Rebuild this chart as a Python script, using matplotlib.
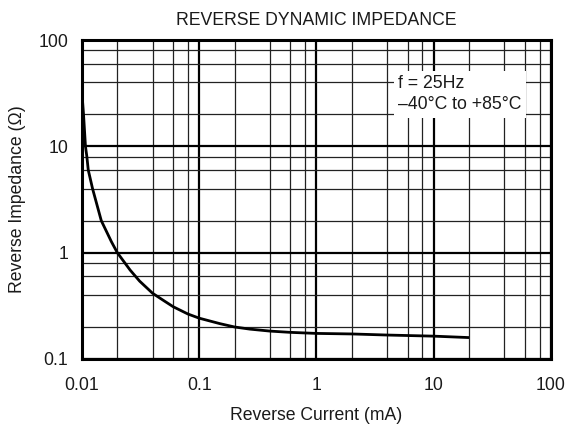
import matplotlib
matplotlib.use("Agg")
import matplotlib.pyplot as plt
from matplotlib.ticker import LogLocator, NullFormatter, FixedLocator, FixedFormatter

plt.rcParams['font.family'] = ['Liberation Sans', 'DejaVu Sans']

# Data
current_mA = [0.01, 0.0103, 0.0107, 0.011, 0.0113, 0.0123, 0.0146, 0.0178, 0.02,
              0.0257, 0.031, 0.04, 0.05, 0.06, 0.08, 0.1, 0.15, 0.2, 0.27, 0.4, 0.6,
              1, 2, 4, 10, 20]
impedance = [31, 20, 10, 8, 6, 4, 2, 1.27, 1.0,
             0.687, 0.54, 0.415, 0.353, 0.31, 0.265, 0.242, 0.215, 0.2, 0.191, 0.183, 0.178,
             0.174, 0.172, 0.168, 0.164, 0.159]

x_ticks = [0.01, 0.1, 1, 10, 100]
x_tick_labels = ["0.01", "0.1", "1", "10", "100"]
y_ticks = [0.1, 1, 10, 100]
y_tick_labels = ["0.1", "1", "10", "100"]

title = "REVERSE DYNAMIC IMPEDANCE"
xlabel = "Reverse Current (mA)"
ylabel = "Reverse Impedance (Ω)"
note = "f = 25Hz\n\u201340°C to +85°C"

FS = 12.7
TXT = '#1a1a1a'

fig = plt.figure(figsize=(5.68, 4.26), dpi=100)
ax = fig.add_axes([0.1444, 0.1573, 0.8256, 0.7487])
ax.set_xscale('log')
ax.set_yscale('log')
ax.set_xlim(0.01, 100)
ax.set_ylim(0.1, 100)

ax.xaxis.set_major_locator(FixedLocator(x_ticks))
ax.xaxis.set_major_formatter(FixedFormatter(x_tick_labels))
ax.yaxis.set_major_locator(FixedLocator(y_ticks))
ax.yaxis.set_major_formatter(FixedFormatter(y_tick_labels))
ax.xaxis.set_minor_locator(LogLocator(base=10, subs=(2, 4, 6, 8)))
ax.yaxis.set_minor_locator(LogLocator(base=10, subs=(2, 4, 6, 8)))
ax.xaxis.set_minor_formatter(NullFormatter())
ax.yaxis.set_minor_formatter(NullFormatter())

ax.grid(which='major', color='black', linewidth=1.6)
ax.grid(which='minor', color='#222222', linewidth=0.9)
ax.tick_params(which='both', length=0, labelcolor=TXT)
ax.tick_params(axis='x', pad=13, labelsize=FS)
ax.tick_params(axis='y', pad=10, labelsize=FS)
for s in ax.spines.values():
    s.set_linewidth(2.2)

ax.plot(current_mA, impedance, color='black', linewidth=2, zorder=3,
        solid_joinstyle='round', solid_capstyle='butt')

ax.text(5.0, 31, note, fontsize=FS, va='center', ha='left', linespacing=1.35,
        color=TXT, bbox=dict(facecolor='white', edgecolor='none', pad=3), zorder=4)

ax.set_title(title, fontsize=FS, pad=11, color=TXT)
ax.set_xlabel(xlabel, fontsize=FS, labelpad=9, color=TXT)
ax.set_ylabel(ylabel, fontsize=FS, labelpad=9, color=TXT)

fig.savefig("out.png", dpi=100)
